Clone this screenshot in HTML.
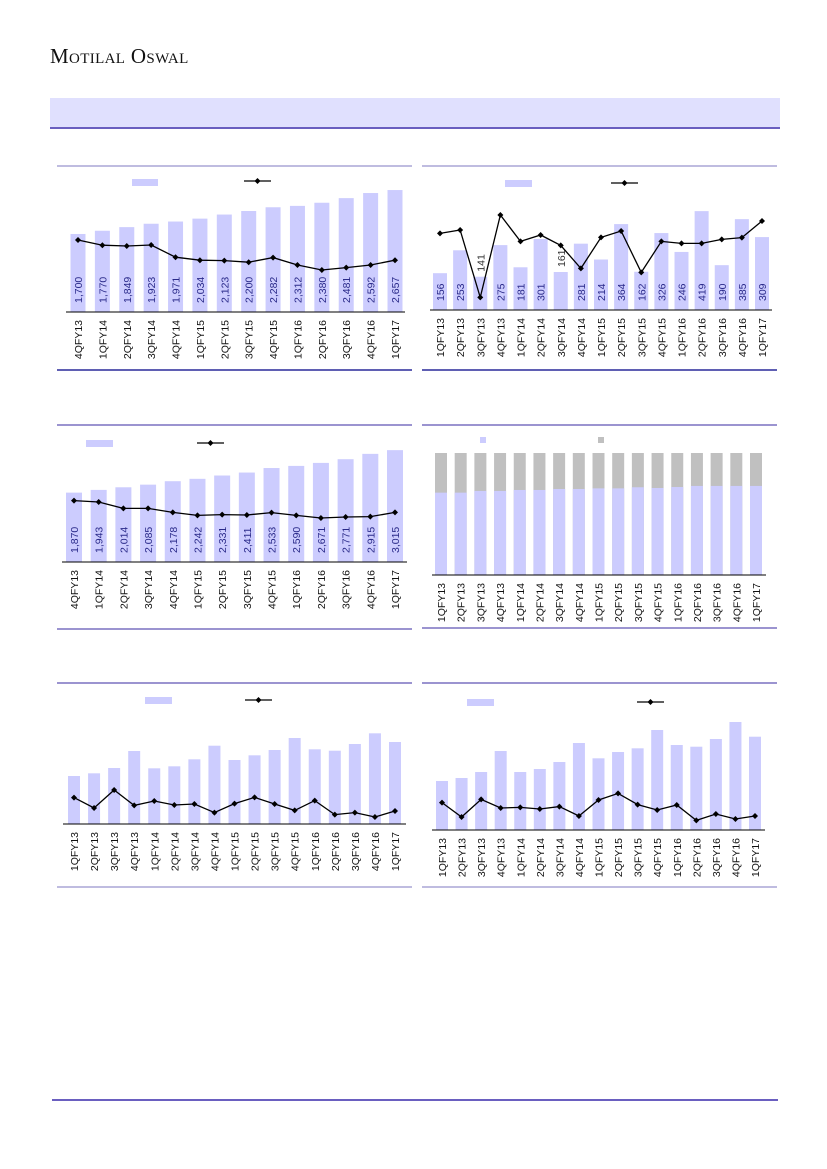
<!DOCTYPE html>
<html><head><meta charset="utf-8">
<style>
html,body{margin:0;padding:0;background:#fff;}
body{width:827px;height:1169px;position:relative;overflow:hidden;font-family:"Liberation Sans",sans-serif;}
#logo{position:absolute;left:50px;top:43px;font-family:"Liberation Serif",serif;font-size:21px;font-variant:small-caps;letter-spacing:0.35px;color:#111;line-height:26px;white-space:nowrap;}
#band{position:absolute;left:50px;top:98px;width:730px;height:29px;background:#e0e0fe;border-bottom:2px solid #6a5fc0;}
#foot{position:absolute;left:52px;top:1099px;width:726px;height:2px;background:#6a5fc0;}
svg{position:absolute;left:0;top:0;}
</style></head><body>
<div id="logo">Motilal Oswal</div>
<div id="band"></div>
<div id="foot"></div>
<svg id="cv" width="827" height="1169"></svg>
<script>
// ---- data ----
const cats14 = ["4QFY13","1QFY14","2QFY14","3QFY14","4QFY14","1QFY15","2QFY15","3QFY15","4QFY15","1QFY16","2QFY16","3QFY16","4QFY16","1QFY17"];
const cats17 = ["1QFY13","2QFY13","3QFY13","4QFY13","1QFY14","2QFY14","3QFY14","4QFY14","1QFY15","2QFY15","3QFY15","4QFY15","1QFY16","2QFY16","3QFY16","4QFY16","1QFY17"];
const c1Bars = [1700,1770,1849,1923,1971,2034,2123,2200,2282,2312,2380,2481,2592,2657];
const c1Line = [36,33.4,33,33.5,27.4,25.9,25.7,24.9,27.2,23.5,21,22.2,23.5,25.9];
const c1Labels = ["1,700","1,770","1,849","1,923","1,971","2,034","2,123","2,200","2,282","2,312","2,380","2,481","2,592","2,657"];
const c2Bars = [156,253,141,275,181,301,161,281,214,364,162,326,246,419,190,385,309];
const c2Line = [38.3,40,6.3,47.5,34.3,37.5,32.3,20.8,36.3,39.5,18.8,34.3,33.3,33.3,35.3,36.2,44.5];
const c2Labels = ["156","253","141","275","181","301","161","281","214","364","162","326","246","419","190","385","309"];
const c3Bars = [1870,1943,2014,2085,2178,2242,2331,2411,2533,2590,2671,2771,2915,3015];
const c3Line = [30.7,30,26.8,26.8,24.8,23.3,23.7,23.5,24.7,23.3,22,22.5,22.7,24.8];
const c3Labels = ["1,870","1,943","2,014","2,085","2,178","2,242","2,331","2,411","2,533","2,590","2,671","2,771","2,915","3,015"];
const c4Share = [67.5,67.5,68.9,68.9,69.7,69.7,70.5,70.5,71,71,71.9,71.3,72.1,73,73,73,73];
const c5Bars = [48,50.7,56,73,55.7,57.7,64.7,78.3,64,68.7,74,86,74.7,73.3,80,90.7,82];
const c5Line = [13.2,8,17,9.3,11.5,9.5,10,5.7,10.2,13.3,10,6.8,11.7,4.7,5.7,3.5,6.5];
const c6Bars = [49,52,58,79,58,61,68,87,71.7,78,81.7,100,85,83.3,91,108,93.3];
const c6Line = [13.7,6.5,15.3,11,11.3,10.5,11.7,7,15,18.3,12.7,10,12.5,4.8,8,5.5,7];

const NS="http://www.w3.org/2000/svg";
const svg=document.getElementById('cv');
function mk(tag,attrs,parent){const e=document.createElementNS(NS,tag);for(const k in attrs)e.setAttribute(k,attrs[k]);(parent||svg).appendChild(e);return e;}

function chart(o){
  const g=mk('g',{});
  
  
  const ft=mk('line',{x1:o.fx1,x2:o.fx2,y1:o.ftop,y2:o.ftop,stroke:o.topCol,'stroke-width':1.5},g);
  
  
  const fb=mk('line',{x1:o.fx1,x2:o.fx2,y1:o.fbot,y2:o.fbot,stroke:o.botCol,'stroke-width':1.5},g);
  
  
  const n=o.cats.length;
  const xs=i=>o.x0+(o.x1-o.x0)*i/(n-1);
  const yb=v=>o.axis-v*o.k;
  const yl=v=>o.axis-v*o.kl;
  if(o.share){
    o.share.forEach((s,i)=>{
      const top=o.axis-o.fullH;
      const g1=mk('rect',{x:xs(i)-o.bw/2,y:top,width:o.bw,height:o.fullH,fill:'#c0c0c0'},g);
      
      
      const h=s/100*o.fullH;
      const p=mk('rect',{x:xs(i)-o.bw/2,y:o.axis-h,width:o.bw,height:h,fill:'#ccccfe'},g);
      
      
    });
  }
  if(o.bars){
    o.bars.forEach((v,i)=>{
      const r=mk('rect',{x:xs(i)-o.bw/2,y:yb(v),width:o.bw,height:v*o.k,fill:'#ccccfe'},g);
      
      
      if(o.labels){
        const above=o.above&&o.above.includes(i);
        const sy=above?yb(v)-5:o.axis-9;
        const t=mk('text',{x:0,y:0,transform:`translate(${xs(i)+4},${sy}) rotate(-90)`,'font-size':10.5,fill:above?'#333':'#2a2a8a','font-family':'Liberation Sans, sans-serif'},g);
        t.textContent=o.labels[i];
        
        
      }
    });
  }
  if(o.line){
    const pts=o.line.map((v,i)=>xs(i)+','+yl(v)).join(' ');
    const pl=mk('polyline',{points:pts,fill:'none',stroke:'#000','stroke-width':1.3},g);
    
    
    o.line.forEach((v,i)=>{
      const x=xs(i),y=yl(v);
      const m=mk('path',{d:`M${x},${y-3}L${x+3},${y}L${x},${y+3}L${x-3},${y}Z`,fill:'#000'},g);
      
      
    });
  }
  const ax=mk('line',{x1:o.ax1,x2:o.ax2,y1:o.axis,y2:o.axis,stroke:'#000','stroke-width':1},g);
  
  
  o.cats.forEach((c,i)=>{
    const t=mk('text',{x:0,y:0,transform:`translate(${xs(i)+4},${o.axis+8}) rotate(-90)`,'font-size':10.5,fill:'#111','text-anchor':'end','font-family':'Liberation Sans, sans-serif'},g);
    t.textContent=c;
    
    
  });
  if(o.legBar){
    const lb=mk('rect',{x:o.legBar[0],y:o.legBar[1]-3,width:o.legBar[2],height:o.legBar[3]||7,fill:o.legBarCol||'#ccccfe'},g);
    
    
  }
  if(o.legBar2){
    const lb2=mk('rect',{x:o.legBar2[0],y:o.legBar2[1]-3,width:o.legBar2[2],height:o.legBar2[3],fill:'#c0c0c0'},g);
    
    
  }
  if(o.legLine){
    const [x,y,w]=o.legLine;
    const ll=mk('line',{x1:x,x2:x+w,y1:y,y2:y,stroke:'#000','stroke-width':1.3},g);
    
    
    const mx=x+w/2;
    const lm=mk('path',{d:`M${mx},${y-3}L${mx+3},${y}L${mx},${y+3}L${mx-3},${y}Z`,fill:'#000'},g);
    
    
  }
}

chart({name:'chart-top-left',cats:cats14,bars:c1Bars,line:c1Line,labels:c1Labels,
  fx1:57,fx2:412,ftop:166,fbot:370,topCol:'#aaa5d6',botCol:'#2a2a9a',
  x0:78,x1:395,axis:312,ax1:66,ax2:405,bw:15,k:0.0459,kl:2,
  legBar:[132,182,26],legLine:[244,181,27]});
chart({name:'chart-top-right',cats:cats17,bars:c2Bars,line:c2Line,labels:c2Labels,above:[2,6],
  fx1:422,fx2:777,ftop:166,fbot:370,topCol:'#aaa5d6',botCol:'#2a2a9a',
  x0:440,x1:762,axis:310,ax1:430,ax2:772,bw:14,k:0.236,kl:2,
  legBar:[505,183,27],legLine:[611,183,27]});
chart({name:'chart-mid-left',cats:cats14,bars:c3Bars,line:c3Line,labels:c3Labels,
  fx1:57,fx2:412,ftop:425,fbot:629,topCol:'#7a70c0',botCol:'#7a70c0',
  x0:74,x1:395,axis:562,ax1:62,ax2:407,bw:16,k:0.0371,kl:2,
  legBar:[86,443,27],legLine:[197,443,27]});
chart({name:'chart-mid-right',cats:cats17,share:c4Share,fullH:122,
  fx1:422,fx2:777,ftop:425,fbot:628,topCol:'#7a70c0',botCol:'#7a70c0',
  x0:441,x1:756,axis:575,ax1:432,ax2:766,bw:12,
  legBar:[480,440,6,6],legBar2:[598,440,6,6]});
chart({name:'chart-bottom-left',cats:cats17,bars:c5Bars,line:c5Line,
  fx1:57,fx2:412,ftop:683,fbot:887,topCol:'#7a70c0',botCol:'#aaa5d6',
  x0:74,x1:395,axis:824,ax1:63,ax2:406,bw:12,k:1,kl:2,
  legBar:[145,700,27],legLine:[245,700,27]});
chart({name:'chart-bottom-right',cats:cats17,bars:c6Bars,line:c6Line,
  fx1:422,fx2:777,ftop:683,fbot:887,topCol:'#7a70c0',botCol:'#aaa5d6',
  x0:442,x1:755,axis:830,ax1:432,ax2:765,bw:12,k:1,kl:2,
  legBar:[467,702,27],legLine:[637,702,27]});
</script>
</body></html>
